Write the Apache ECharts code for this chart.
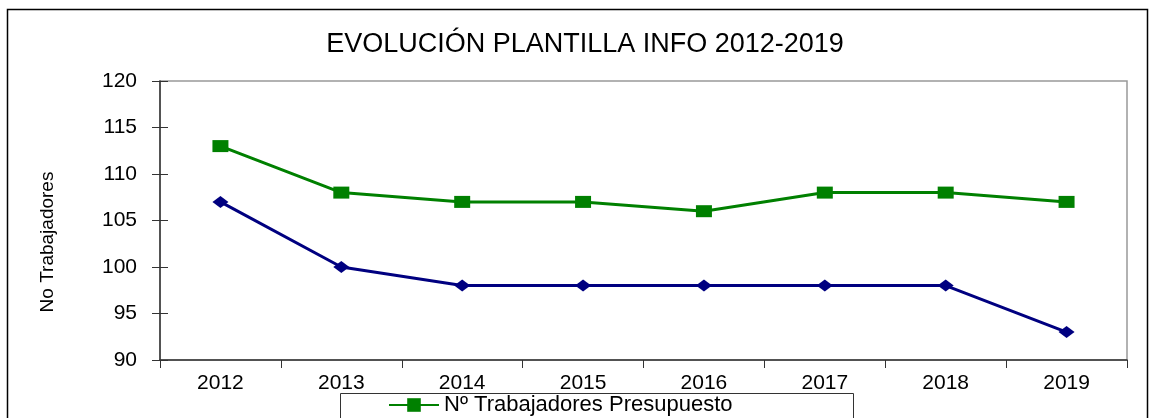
<!DOCTYPE html>
<html><head><meta charset="utf-8">
<script src="https://cdn.jsdelivr.net/npm/echarts@6/dist/echarts.min.js"></script>
<style>html,body{margin:0;padding:0;background:#fff}#c{width:1149px;height:418px}</style>
</head><body><div id="c"></div>
<script>
const categories = ['2012','2013','2014','2015','2016','2017','2018','2019'];
const presupuesto = [113,108,107,107,106,108,108,107];
const reales = [107,100,98,98,98,98,98,93];
const yTicks = {min: 90, max: 120, interval: 5};
const titleText = 'EVOLUCIÓN PLANTILLA INFO 2012-2019';
const yName = 'No Trabajadores';
const legendName = 'Nº Trabajadores Presupuesto';

const chart = echarts.init(document.getElementById('c'), null, {renderer:'canvas'});
const font = 'Liberation Sans, Arial, sans-serif';
chart.setOption({
  animation: false,
  backgroundColor: '#fff',
  title: {
    text: titleText, left: 585, top: 31, textAlign: 'center', padding: 0,
    textStyle: {fontFamily: font, fontSize: 27, fontWeight: 'normal', color: '#000'}
  },
  graphic: [
    {type:'rect', shape:{x:7.5, y:9.5, width:1140, height:430}, style:{fill:'none', stroke:'#000', lineWidth:1.5}, z:-1},
    {type:'rect', shape:{x:340.5, y:393.5, width:513, height:40}, style:{fill:'#fff', stroke:'#333', lineWidth:1}, z:0},
    {type:'text', x:48, y:242, rotation: Math.PI/2, z: 5,
     style:{text: yName, fontFamily: font, fontSize: 19, fill:'#000', align:'center', verticalAlign:'middle'}}
  ],
  legend: {
    data: [legendName], left: 388, top: 393, padding: [1,0,0,0],
    itemWidth: 50, itemHeight: 17, itemGap: 4,
    textStyle: {fontFamily: font, fontSize: 22, color: '#000'}, z: 5
  },
  grid: {left: 160, right: 22, top: 81, bottom: 58, show: true, borderColor: '#999', borderWidth: 1.5},
  xAxis: {
    type: 'category', data: categories, boundaryGap: true,
    axisLine: {lineStyle: {color: '#333', width: 1.5}},
    axisTick: {show: true, length: 8, lineStyle: {color: '#333'}},
    axisLabel: {fontFamily: font, fontSize: 21, color: '#000', margin: 13},
    splitLine: {show: false}
  },
  yAxis: [{
    type: 'value', min: yTicks.min, max: yTicks.max, interval: yTicks.interval,
    axisLine: {show: true, lineStyle: {color: '#333', width: 1.5}},
    axisTick: {show: true, length: 8, lineStyle: {color: '#333'}},
    axisLabel: {fontFamily: font, fontSize: 21, color: '#000', margin: 23},
    splitLine: {show: false}
  },{
    type: 'value', min: yTicks.min, max: yTicks.max, interval: yTicks.interval, position: 'left',
    axisLine: {show: false}, axisLabel: {show: false}, splitLine: {show: false},
    axisTick: {show: true, inside: true, length: 8, lineStyle: {color: '#333'}}
  }],
  series: [
    {name: legendName, type: 'line', data: presupuesto, yAxisIndex: 0,
     symbol: 'rect', symbolSize: [16, 12], lineStyle: {color: '#008000', width: 3},
     itemStyle: {color: '#008000'}, z: 3},
    {name: 'Nº Trabajadores Reales', type: 'line', data: reales, yAxisIndex: 0,
     symbol: 'diamond', symbolSize: [16, 12], lineStyle: {color: '#000080', width: 3},
     itemStyle: {color: '#000080'}, z: 3}
  ]
});
</script></body></html>
